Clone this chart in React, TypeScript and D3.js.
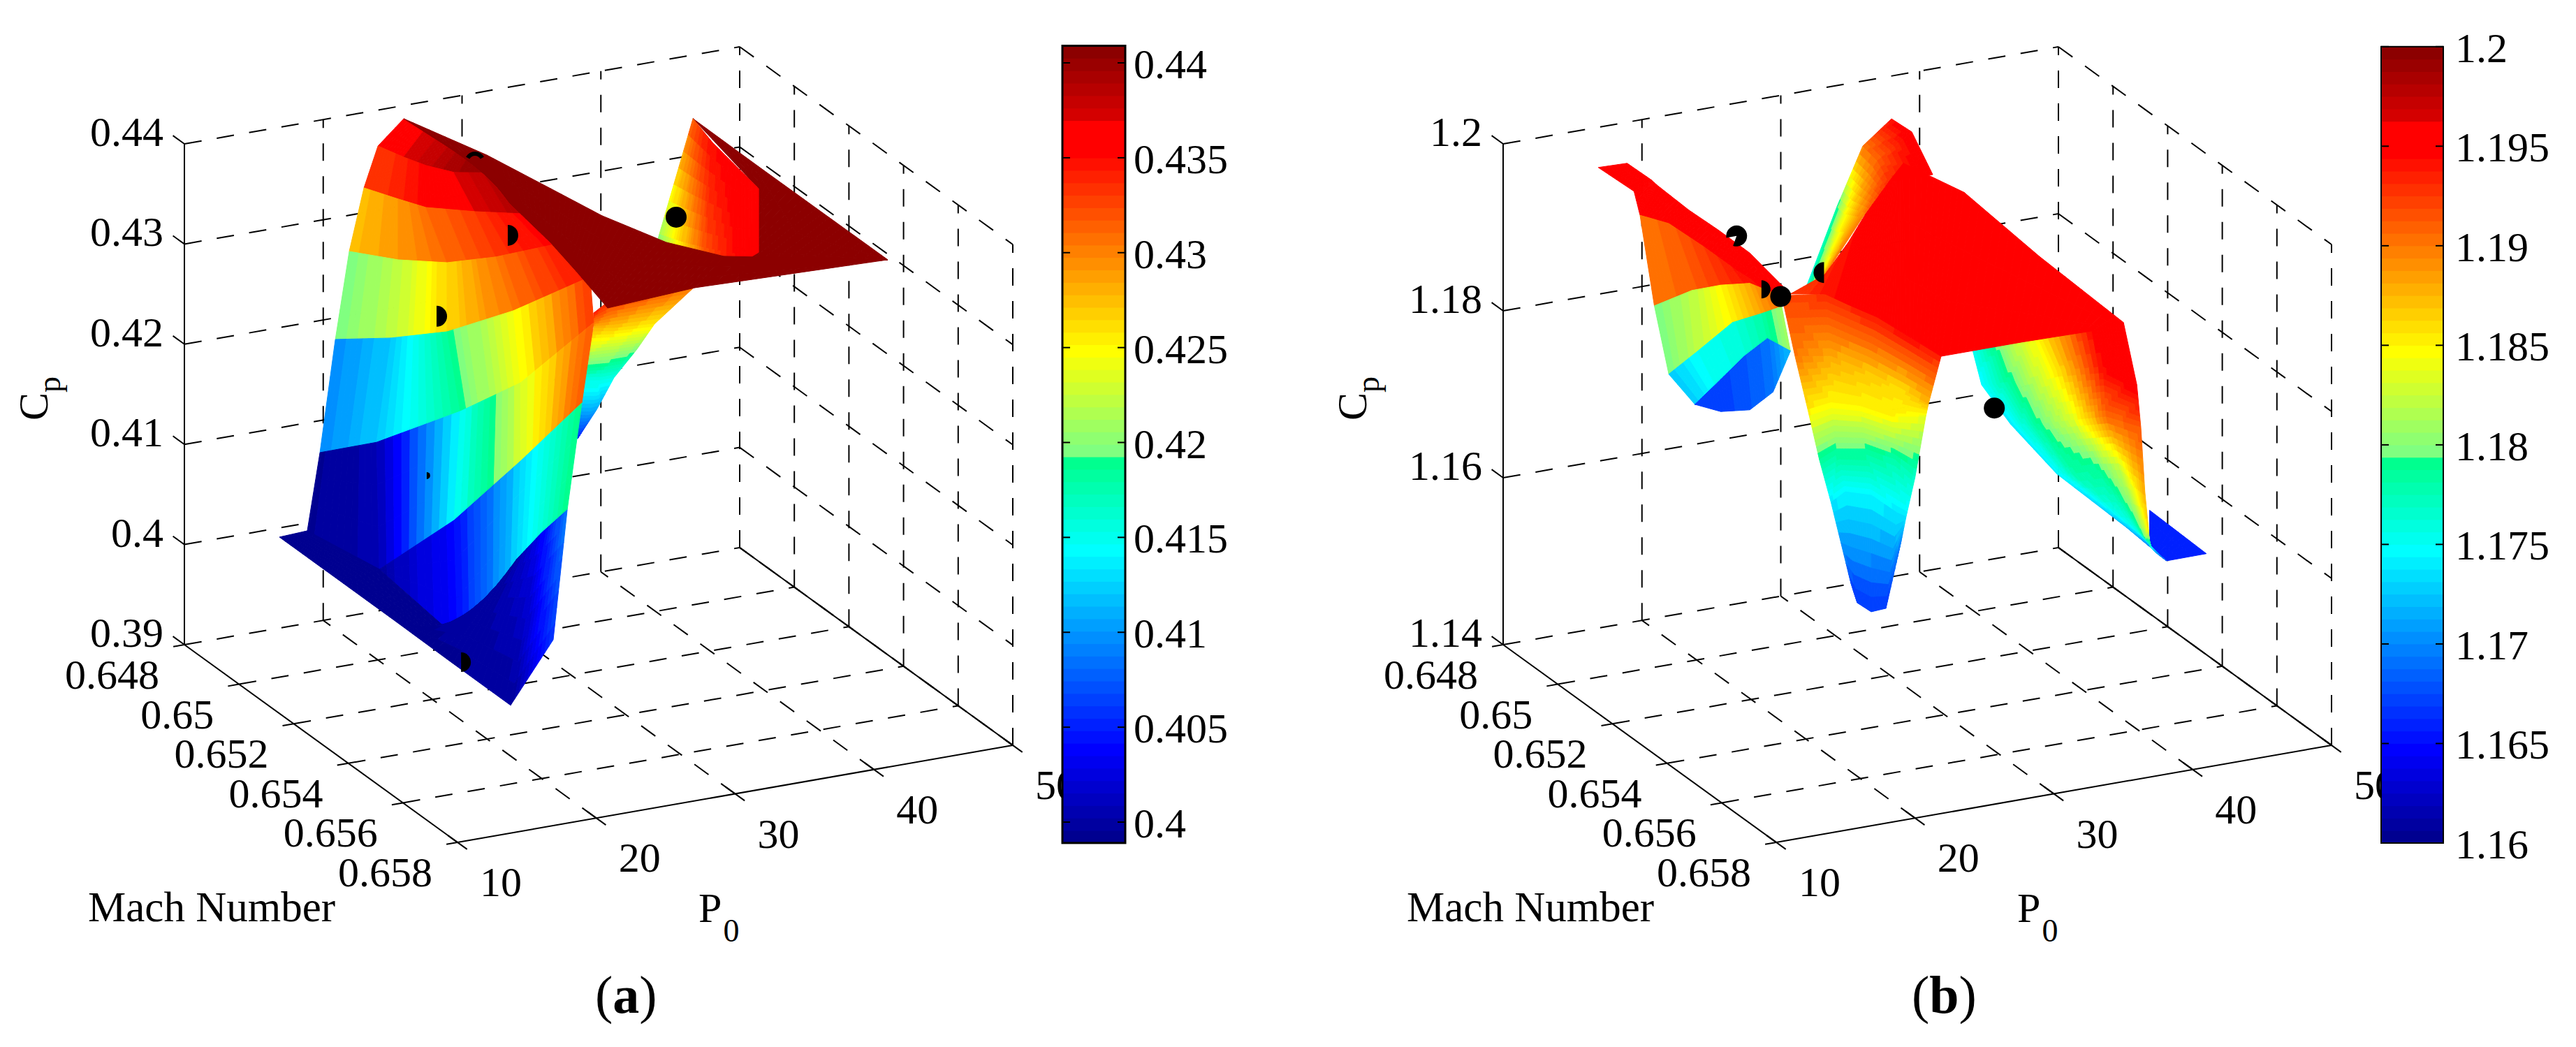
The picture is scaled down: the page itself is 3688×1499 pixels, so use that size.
import * as d3 from "d3"

// axis ticks
const machTicks = [0.648, 0.65, 0.652, 0.654, 0.656, 0.658]
const p0Ticks = [10, 20, 30, 40, 50]
const cpTicksA = [0.39, 0.4, 0.41, 0.42, 0.43, 0.44]
const cpTicksB = [1.14, 1.16, 1.18, 1.2]
const barTicksA = [0.4, 0.405, 0.41, 0.415, 0.42, 0.425, 0.43, 0.435, 0.44]
const barTicksB = [1.16, 1.165, 1.17, 1.175, 1.18, 1.185, 1.19, 1.195, 1.2]

// (a) front wall, rows go from the ridge down to the low P0 edge
const wallMachA = [
	[0.64817, 0.64888, 0.64959, 0.65029, 0.651],
	[0.64817, 0.649, 0.64984, 0.65067, 0.6515],
	[0.64817, 0.64925, 0.65034, 0.65142, 0.6525],
	[0.64817, 0.64963, 0.65109, 0.65254, 0.654],
	[0.64817, 0.65, 0.65184, 0.65367, 0.6555],
	[0.64817, 0.6503, 0.65242, 0.65455, 0.65667],
	[0.64817, 0.6503, 0.65242, 0.65455, 0.65667],
	[0.64817, 0.6503, 0.65242, 0.65455, 0.65667],
]
const wallP0A = [
	[25.47, 25.53, 25.64, 25.72, 26.83],
	[23.61, 23.83, 23.79, 24.17, 26.05],
	[22.6, 22.94, 22.8, 24.2, 26],
	[21.54, 22.19, 22.84, 23.51, 25.66],
	[20.54, 20.96, 21.37, 22.54, 24.47],
	[19.43, 19.32, 21.18, 21.33, 22.43],
	[18.52, 19.52, 20.73, 21.33, 21.57],
	[18.52, 19.52, 20.98, 21.07, 20.52],
]
const wallCpA = [
	[0.4391, 0.43931, 0.43942, 0.4396, 0.43972],
	[0.43683, 0.4373, 0.43813, 0.43899, 0.44012],
	[0.43289, 0.43383, 0.43517, 0.43655, 0.438],
	[0.4268, 0.42869, 0.43113, 0.4344, 0.43825],
	[0.41826, 0.42191, 0.42607, 0.43149, 0.43802],
	[0.40723, 0.41249, 0.41931, 0.42633, 0.43625],
	[0.39964, 0.39975, 0.40854, 0.41852, 0.42844],
	[0.39964, 0.39975, 0.3967, 0.40881, 0.41803],
]
const wallToneA = [
	[0.436, 0.437, 0.438, 0.4395, 0.4405],
	[0.433, 0.434, 0.4355, 0.437, 0.439],
	[0.4275, 0.429, 0.431, 0.433, 0.436],
	[0.4195, 0.422, 0.4265, 0.4305, 0.435],
	[0.4095, 0.412, 0.4185, 0.4245, 0.433],
	[0.3995, 0.4005, 0.4145, 0.423, 0.432],
	[0.3995, 0.4, 0.404, 0.4125, 0.4195],
]

// (a) apron at the foot of the wall
const apronMachA = [
	[0.64817, 0.6503, 0.65242, 0.65455, 0.6556, 0.65667],
	[0.64817, 0.6503, 0.65242, 0.65455, 0.65667, 0.65667],
]
const apronP0A = [
	[18.52, 19.52, 20.98, 21.07, 20.76, 20.52],
	[16.51, 16.51, 16.5, 16.45, 16.44, 19.51],
]
const apronCpA = [
	[0.39964, 0.39975, 0.3967, 0.40881, 0.41354, 0.41803],
	[0.3995, 0.3995, 0.3995, 0.3995, 0.3995, 0.4053],
]
const apronToneA = [
	[0.3995, 0.3995, 0.3995, 0.4, 0.4035, 0.409],
	[0.3995, 0.3995, 0.3995, 0.3995, 0.3995, 0.406],
]

// (a) flat top
const plateauMachA = [
	[0.64817, 0.651, 0.6525, 0.6535, 0.654, 0.655, 0.65667],
	[0.651, 0.6525, 0.654, 0.6555, 0.65667, 0.65667, 0.65667],
]
const plateauP0A = [
	[25.47, 25.88, 27.51, 29.27, 32.91, 35.07, 43.61],
	[25.83, 24.59, 24.56, 23.67, 23.43, 29.72, 43.61],
]
const plateauCpA = [
	[0.4391, 0.44096, 0.44019, 0.43901, 0.43646, 0.43652, 0.4374],
	[0.43937, 0.43942, 0.43848, 0.43846, 0.43747, 0.43797, 0.4374],
]
const plateauToneA = [[0.4409, 0.4409, 0.4409, 0.4409, 0.4409, 0.4409, 0.4409]]

// (a) back wing behind the plateau
const wingMachA = [
	[0.64817, 0.651, 0.6538, 0.65667],
	[0.64817, 0.651, 0.655, 0.65667],
]
const wingP0A = [
	[46.3, 45.41, 44.58, 43.61],
	[46.3, 45.46, 36.5, 43.61],
]
const wingCpA = [
	[0.43406, 0.43512, 0.43617, 0.4374],
	[0.43406, 0.43287, 0.4345, 0.4374],
]
const wingToneA = [[0.4409, 0.4409, 0.4409, 0.4409]]

const fanMachA = [
	[0.64817, 0.649, 0.65, 0.651, 0.651],
	[0.651, 0.652, 0.653, 0.654, 0.655],
]
const fanP0A = [
	[46.3, 45.37, 44.1, 43.8, 45.46],
	[37.96, 37.9, 37.7, 37.89, 37.59],
]
const fanCpA = [
	[0.43406, 0.43473, 0.43583, 0.43557, 0.43287],
	[0.42846, 0.42968, 0.43121, 0.43286, 0.4363],
]
const fanToneA = [
	[0.432, 0.434, 0.435, 0.436, 0.437],
	[0.419, 0.426, 0.432, 0.435, 0.437],
]

// (a) underside seen below the plateau
const underMachA = d3.range(6).map(() => [0.6565, 0.6565, 0.6565])
const underP0A = [
	[22.76, 23.77, 30.2],
	[22.76, 24.27, 27.14],
	[22.26, 24.27, 25.88],
	[22.01, 23.26, 24.22],
	[21.75, 22.51, 22.96],
	[21.5, 21.6, 21.7],
]
const underCpA = [
	[0.4368, 0.43765, 0.43783],
	[0.43528, 0.43491, 0.43464],
	[0.43261, 0.43247, 0.43243],
	[0.43023, 0.42993, 0.42998],
	[0.42716, 0.42697, 0.42707],
	[0.42456, 0.42454, 0.42472],
]
const underToneA = [
	[0.4345, 0.4335, 0.431],
	[0.428, 0.427, 0.4255],
	[0.4215, 0.421, 0.42],
	[0.4155, 0.4155, 0.415],
	[0.411, 0.411, 0.4105],
	[0.4055, 0.4055, 0.4055],
]

// (a) scatter points, partly buried in the surface
const dotMachA = [0.651, 0.6525, 0.6515, 0.651, 0.6525, 0.655]
const dotP0A = [39.52, 24.44, 21.28, 25.03, 18.6, 16.16]
const dotCpA = [0.43145, 0.43625, 0.42696, 0.44047, 0.41368, 0.40057]
const dotFromA = [0, 0, 0, -60, 0, 0]
const dotToA = [360, 180, 180, 60, 180, 180]
const dotSizeA = [15, 15, 15, 15, 5, 14]
const dotHoleA = [0, 0, 0, 9, 0, 0]

// (b) back peak
const peakMachB = d3.range(4).map(() => [0.649, 0.649, 0.649])
const peakP0B = [
	[29.77, 30.42, 31.23],
	[32.08, 32.59, 33.94],
	[33.94, 35, 35.81],
	[36.01, 37.47, 38.98],
]
const peakCpB = [
	[1.17905, 1.17952, 1.18055],
	[1.18842, 1.18743, 1.18662],
	[1.19515, 1.19309, 1.19034],
	[1.19781, 1.19581, 1.19026],
]
const peakToneB = [
	[1.1755, 1.181, 1.19],
	[1.178, 1.184, 1.19],
	[1.19, 1.191, 1.193],
	[1.1945, 1.1955, 1.1955],
]

// (b) left valley
const valleyMachB = d3.range(5).map(() => [0.6482, 0.6495, 0.651, 0.6535, 0.6555])
const valleyP0B = [
	[19.46, 18.98, 18.54, 16.12, 14.69],
	[20.5, 20.65, 19.79, 16.95, 14.9],
	[21.54, 21.07, 20.62, 17.79, 15.31],
	[23.42, 22.32, 21.46, 18.21, 15.94],
	[23.42, 22.73, 21.87, 18.62, 15.94],
]
const valleyCpB = [
	[1.18926, 1.1915, 1.1924, 1.19603, 1.19863],
	[1.17802, 1.1829, 1.18734, 1.1943, 1.19836],
	[1.16953, 1.17551, 1.18262, 1.19043, 1.19673],
	[1.16536, 1.1711, 1.17832, 1.18732, 1.19122],
	[1.16536, 1.16778, 1.17179, 1.18079, 1.19122],
]
const valleyToneB = [
	[1.19, 1.191, 1.1925, 1.194, 1.195],
	[1.1795, 1.182, 1.185, 1.188, 1.191],
	[1.1725, 1.175, 1.176, 1.178, 1.181],
	[1.1675, 1.167, 1.168, 1.169, 1.172],
]

// (b) red strip along the low P0 edge
const stripMachB = d3.range(2).map(() => [0.6482, 0.6492, 0.6495, 0.651, 0.6522, 0.6535, 0.6555])
const stripP0B = [
	[18.54, 18.32, 18.15, 17.49, 17.22, 16.95, 15.94],
	[16.46, 17.07, 16.9, 16.03, 16.18, 16.12, 14.69],
]
const stripCpB = [
	[1.19567, 1.1961, 1.19622, 1.19698, 1.19755, 1.19793, 1.19806],
	[1.19577, 1.1951, 1.19309, 1.1959, 1.19593, 1.19603, 1.19863],
]
const stripToneB = [[1.1955, 1.1955, 1.1955, 1.1955, 1.1955, 1.1955, 1.1955]]

// (b) centre trough
const troughMachB = d3.range(6).map(() => [0.651, 0.6525, 0.654, 0.6555, 0.65667])
const troughP0B = [
	[24.17, 24.34, 25.16, 24.7, 24.49],
	[25.13, 24.76, 24.31, 23.87, 23.57],
	[26.05, 24.76, 23.9, 23.24, 23.38],
	[26.88, 25.18, 24.31, 23.45, 22.61],
	[27.72, 25.8, 24.73, 23.66, 21.97],
	[29.15, 26.65, 24.71, 22.82, 21.57],
]
const troughCpB = [
	[1.18479, 1.1885, 1.18904, 1.19017, 1.19087],
	[1.17725, 1.18091, 1.18289, 1.18443, 1.18537],
	[1.17059, 1.17536, 1.17874, 1.1812, 1.18392],
	[1.16436, 1.16969, 1.17349, 1.17602, 1.17689],
	[1.159, 1.16438, 1.16782, 1.16955, 1.17237],
	[1.1489, 1.15084, 1.15387, 1.15839, 1.16922],
]
const troughToneB = [
	[1.192, 1.193, 1.194, 1.1945, 1.1935],
	[1.19, 1.188, 1.187, 1.186, 1.1875],
	[1.1855, 1.185, 1.185, 1.185, 1.184],
	[1.1785, 1.179, 1.179, 1.178, 1.177],
	[1.174, 1.1745, 1.1745, 1.174, 1.174],
	[1.1675, 1.1665, 1.1665, 1.1665, 1.1695],
]

// (b) big flat top
const plateauMachB = [
	[0.654, 0.653, 0.6525, 0.652, 0.6515, 0.651, 0.6525, 0.6545, 0.65667],
	[0.654, 0.6545, 0.655, 0.6555, 0.656, 0.6565, 0.65667, 0.65667, 0.65667],
]
const plateauP0B = [
	[18.89, 23.36, 26.02, 28.25, 30.9, 32.93, 34.36, 35.85, 37.63],
	[18.89, 19.16, 19.43, 20.11, 21.22, 22.32, 24.49, 30.33, 35.96],
]
const plateauCpB = [
	[1.19364, 1.19232, 1.19422, 1.19579, 1.19767, 1.19812, 1.19776, 1.19438, 1.1911],
	[1.19364, 1.19474, 1.19585, 1.19556, 1.19492, 1.19366, 1.19087, 1.19088, 1.19073],
]
const plateauToneB = [[1.193, 1.193, 1.194, 1.195, 1.1955, 1.1955, 1.1955, 1.1955, 1.1955]]

// (b) right wing and its blue tail
const rightMachB = d3.range(6).map(() => [0.653, 0.654, 0.655, 0.656, 0.65667])
const rightP0B = [
	[34, 34.33, 35.07, 37.07, 37.63],
	[34.63, 35.37, 36.12, 37.49, 38.59],
	[36.71, 36.83, 37.16, 37.7, 38.88],
	[40.05, 39.34, 39.04, 38.74, 39.17],
	[45.06, 43.72, 42.17, 40.54, 39.42],
	[47.96, 45.79, 43.47, 41.1, 39.53],
]
const rightCpB = [
	[1.18004, 1.18318, 1.18597, 1.18883, 1.1911],
	[1.17581, 1.17838, 1.18182, 1.18422, 1.18335],
	[1.17051, 1.17284, 1.17554, 1.17818, 1.17815],
	[1.16356, 1.16613, 1.16901, 1.17147, 1.17037],
	[1.1557, 1.15803, 1.16043, 1.16284, 1.16603],
	[1.15085, 1.15409, 1.15756, 1.1612, 1.16375],
]
const rightToneB = [
	[1.175, 1.181, 1.1855, 1.1955, 1.1955],
	[1.1745, 1.18, 1.1855, 1.1945, 1.1955],
	[1.174, 1.179, 1.183, 1.1905, 1.1915],
	[1.174, 1.178, 1.1785, 1.182, 1.188],
	[1.172, 1.174, 1.176, 1.18, 1.186],
	[1.168, 1.169, 1.17, 1.172, 1.176],
]
const tailMachB = [[0.65667, 0.65667], [0.65667, 0.65667]]
const tailP0B = [[39.51, 43.6], [39.51, 40.76]]
const tailCpB = [[1.16806, 1.16167], [1.1638, 1.16164]]
const tailToneB = [[1.166, 1.166]]

const dotMachB = [0.652, 0.653, 0.654, 0.653, 0.655]
const dotP0B = [18.95, 18.77, 18.19, 23.28, 31.61]
const dotCpB = [1.19584, 1.19186, 1.19355, 1.19256, 1.17864]
const dotFromB = [-100, 0, 0, -180, 0]
const dotToB = [200, 180, 360, 0, 360]
const dotSizeB = [15, 13, 15, 15, 15]
const dotHoleB = [0, 0, 0, 0, 0]

const FONT = '"Liberation Serif", "Times New Roman", serif'

// jet with 64 levels, the greens are flattened as in the picture
const jetStops = d3.scaleLinear<string>()
	.domain([0, 0.125, 0.375, 0.625, 0.875, 1])
	.range(['#000080', '#0000ff', '#00ffff', '#ffff00', '#ff0000', '#8c0000'])
const jetColors = d3.range(1, 65).map(i => {
	const c = d3.rgb(jetStops(i / 64))
	if (c.g > 250 && c.r < 120) c.r = 0
	if (i === 57 || i === 58) return '#ff0000'
	return c.formatHex()
})

const makeSurface = (mach, p0, cp, tone) => ({ mach, p0, cp, tone })

const surfacesA = [
	makeSurface(wingMachA, wingP0A, wingCpA, wingToneA),
	makeSurface(fanMachA, fanP0A, fanCpA, fanToneA),
	makeSurface(underMachA, underP0A, underCpA, underToneA),
	makeSurface(wallMachA, wallP0A, wallCpA, wallToneA),
	makeSurface(apronMachA, apronP0A, apronCpA, apronToneA),
	makeSurface(plateauMachA, plateauP0A, plateauCpA, plateauToneA),
]
const surfacesB = [
	makeSurface(tailMachB, tailP0B, tailCpB, tailToneB),
	makeSurface(rightMachB, rightP0B, rightCpB, rightToneB),
	makeSurface(peakMachB, peakP0B, peakCpB, peakToneB),
	makeSurface(valleyMachB, valleyP0B, valleyCpB, valleyToneB),
	makeSurface(stripMachB, stripP0B, stripCpB, stripToneB),
	makeSurface(troughMachB, troughP0B, troughCpB, troughToneB),
	makeSurface(plateauMachB, plateauP0B, plateauCpB, plateauToneB),
]

const panelA = {
	left: 0, cpTicks: cpTicksA, surfaces: surfacesA,
	toneDomain: [0.3989, 0.4409], barLeft: 1521, barRight: 1611, barFrame: 3,
	barTicks: barTicksA, barValues: [0.4, 0.44], barRange: [1177, 90], barText: 1623,
	dots: { mach: dotMachA, p0: dotP0A, cp: dotCpA, from: dotFromA, to: dotToA, size: dotSizeA, hole: dotHoleA },
	caption: 'a', captionX: 852,
}
const panelB = {
	left: 1888, cpTicks: cpTicksB, surfaces: surfacesB,
	toneDomain: [1.16, 1.2], barLeft: 3409, barRight: 3498, barFrame: 2,
	barTicks: barTicksB, barValues: [1.16, 1.2], barRange: [1207, 66.8], barText: 3515,
	dots: { mach: dotMachB, p0: dotP0B, cp: dotCpB, from: dotFromB, to: dotToB, size: dotSizeB, hole: dotHoleB },
	caption: 'b', captionX: 2737,
}

const lerp = (a, b, t) => a + (b - a) * t
const blend = (table, i, j, u, v) => lerp(
	lerp(table[i][j], table[i][j + 1], u),
	lerp(table[i + 1][j], table[i + 1][j + 1], u),
	v
)

function Panel({ cfg }) {
	const { left, cpTicks } = cfg
	const originY = 923
	const cpMin = cpTicks[0]
	const cpMax = cpTicks[cpTicks.length - 1]

	// the box is an oblique projection, each data axis adds its own shift
	const xMach = d3.scaleLinear().domain([0.648, 0.658]).range([0, 391])
	const yMach = d3.scaleLinear().domain([0.648, 0.658]).range([0, 283])
	const xP0 = d3.scaleLinear().domain([10, 50]).range([0, 795])
	const yP0 = d3.scaleLinear().domain([10, 50]).range([0, -139])
	const yCp = d3.scaleLinear().domain([cpMin, cpMax]).range([0, -717])

	const project = (m, p, c) => [
		264 + left + xMach(m) + xP0(p),
		originY + yMach(m) + yP0(p) + yCp(c),
	]

	const toneScale = d3.scaleQuantize<string>().domain(cfg.toneDomain).range(jetColors)
	const poly = d3.line()

	const cells = []
	cfg.surfaces.forEach((s, sIdx) => {
		const rows = s.cp.length
		const cols = s.cp[0].length
		const perVertex = s.tone.length === rows
		const stepsU = 10
		const stepsV = perVertex ? 8 : 3
		for (let i = 0; i < rows - 1; i++) {
			for (let j = 0; j < cols - 1; j++) {
				for (let a = 0; a < stepsU; a++) {
					for (let b = 0; b < stepsV; b++) {
						const corner = (u, v) => project(blend(s.mach, i, j, u, v), blend(s.p0, i, j, u, v), blend(s.cp, i, j, u, v))
						const u0 = a / stepsU, u1 = (a + 1) / stepsU, v0 = b / stepsV, v1 = (b + 1) / stepsV
						const uMid = (a + 0.5) / stepsU
						const vMid = (b + 0.5) / stepsV
						const toneTop = lerp(s.tone[i][j], s.tone[i][j + 1], uMid)
						const tone = perVertex
							? lerp(toneTop, lerp(s.tone[i + 1][j], s.tone[i + 1][j + 1], uMid), vMid)
							: toneTop
						cells.push({
							key: `${sIdx}-${i}-${j}-${a}-${b}`,
							d: poly([corner(u0, v0), corner(u1, v0), corner(u1, v1), corner(u0, v1)]) + 'Z',
							fill: toneScale(tone),
						})
					}
				}
			}
		}
	})

	const dash = '25 22'
	const seg = (key, a, b, dashed = true, width = 2) => (
		<line key={key} x1={a[0]} y1={a[1]} x2={b[0]} y2={b[1]} stroke="#000" strokeWidth={width} strokeDasharray={dashed ? dash : undefined} />
	)

	const grid = []
	cpTicks.forEach(c => {
		grid.push(seg(`zl${c}`, project(0.648, 10, c), project(0.648, 50, c)))
		grid.push(seg(`zr${c}`, project(0.648, 50, c), project(0.658, 50, c)))
	})
	p0Ticks.slice(1).forEach(p => {
		grid.push(seg(`vp${p}`, project(0.648, p, cpMin), project(0.648, p, cpMax)))
		grid.push(seg(`fp${p}`, project(0.658, p, cpMin), project(0.648, p, cpMin)))
	})
	machTicks.slice(1).forEach(m => {
		grid.push(seg(`vm${m}`, project(m, 50, cpMin), project(m, 50, cpMax)))
		if (m < 0.658) grid.push(seg(`fm${m}`, project(m, 10, cpMin), project(m, 50, cpMin)))
	})

	const axes = [
		seg('ax-z', project(0.648, 10, cpMin), project(0.648, 10, cpMax), false),
		seg('ax-m', project(0.648, 10, cpMin), project(0.658, 10, cpMin), false),
		seg('ax-p', project(0.658, 10, cpMin), project(0.658, 50, cpMin), false),
		seg('ax-r', project(0.658, 50, cpMin), project(0.648, 50, cpMin), false),
	]
	cpTicks.forEach(c => axes.push(seg(`tz${c}`, project(0.648, 10, c), project(0.64758, 10, c), false)))
	machTicks.forEach(m => axes.push(seg(`tm${m}`, project(m, 10, cpMin), project(m, 9.2, cpMin), false)))
	p0Ticks.forEach(p => axes.push(seg(`tp${p}`, project(0.65765, p, cpMin), project(0.65835, p, cpMin), false)))

	const sector = d3.arc()
	const { dots } = cfg
	const barY = d3.scaleLinear().domain(cfg.barValues).range(cfg.barRange)
	const [toneLow, toneHigh] = cfg.toneDomain
	const levelSize = (toneHigh - toneLow) / jetColors.length
	const barWidth = cfg.barRight - cfg.barLeft

	const label = { fontFamily: FONT, fontSize: 60, fill: '#000' }

	return (
		<g>
			{grid}
			{axes}

			{cells.map(c => <path key={c.key} d={c.d} fill={c.fill} stroke={c.fill} strokeWidth={1} />)}

			{dots.mach.map((m, i) => {
				const [x, y] = project(m, dots.p0[i], dots.cp[i])
				const path = sector({
					innerRadius: dots.hole[i],
					outerRadius: dots.size[i],
					startAngle: dots.from[i] * Math.PI / 180,
					endAngle: dots.to[i] * Math.PI / 180,
				})
				return <path key={i} d={path} transform={`translate(${x},${y})`} fill="#000" />
			})}

			{cpTicks.map(c => {
				const [x, y] = project(0.648, 10, c)
				return <text key={c} x={x - 30} y={y + 3} textAnchor="end" {...label}>{c}</text>
			})}
			{machTicks.map(m => {
				const [x, y] = project(m, 10, cpMin)
				return <text key={m} x={x - 36} y={y + 63} textAnchor="end" {...label}>{m}</text>
			})}
			{p0Ticks.map(p => {
				const [x, y] = project(0.658, p, cpMin)
				return <text key={p} x={x + 32} y={y + 77} {...label}>{p}</text>
			})}

			<text x={126 + left} y={1319} {...label} fontSize={61}>Mach Number</text>
			<text x={1000 + left} y={1320} {...label}>P<tspan dy={28} dx={2} fontSize={46}>0</tspan></text>
			<text transform={`translate(${68 + left},602) rotate(-90)`} {...label}>C<tspan dy={18} fontSize={46}>p</tspan></text>

			<text x={cfg.captionX} y={1450} {...label} fontSize={76}>(<tspan fontWeight="bold">{cfg.caption}</tspan>)</text>

			{jetColors.map((color, i) => (
				<rect key={i} x={cfg.barLeft} width={barWidth} y={barY(toneLow + levelSize * (i + 1)) - 0.5}
					height={barY(toneLow + levelSize * i) - barY(toneLow + levelSize * (i + 1)) + 1} fill={color} />
			))}
			<rect x={cfg.barLeft} width={barWidth} y={barY(toneHigh)} height={barY(toneLow) - barY(toneHigh)}
				fill="none" stroke="#000" strokeWidth={cfg.barFrame} />
			{cfg.barTicks.map(t => (
				<g key={t}>
					<line x1={cfg.barLeft} x2={cfg.barLeft + 11} y1={barY(t)} y2={barY(t)} stroke="#000" strokeWidth={2} />
					<line x1={cfg.barRight - 11} x2={cfg.barRight} y1={barY(t)} y2={barY(t)} stroke="#000" strokeWidth={2} />
					<text x={cfg.barText} y={barY(t) + 22} {...label}>{t}</text>
				</g>
			))}
		</g>
	)
}

export default function App() {
	return (
		<svg width={3688} height={1499} style={{ position: 'absolute', left: 0, top: 0, background: '#fff' }}>
			<Panel cfg={panelA} />
			<Panel cfg={panelB} />
		</svg>
	)
}
